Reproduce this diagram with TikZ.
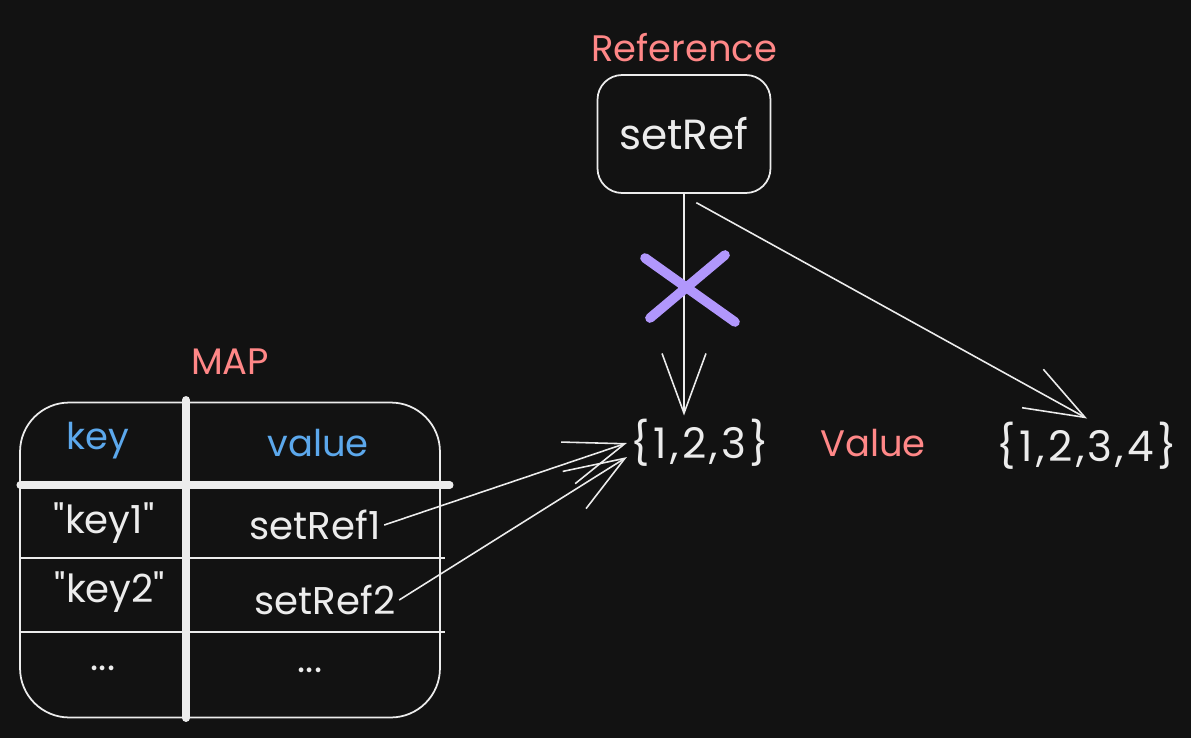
\documentclass[tikz,border=0pt]{standalone}
\usepackage{fontspec}
\setmainfont{Poppins}[Ligatures=TeXOff]
\usepackage{xcolor}
\usepackage{tikz}
\usetikzlibrary{arrows.meta,positioning}

\definecolor{bgdark}{HTML}{121212}
\definecolor{chalk}{HTML}{ECECEC}
\definecolor{salmon}{HTML}{FF8787}
\definecolor{skyblue}{HTML}{5CA8EC}
\definecolor{lilac}{HTML}{B197FC}

\begin{document}
\begin{tikzpicture}[x=0.02cm, y=-0.02cm,
  >={Straight Barb[length=34pt,width=25pt]},
  txt/.style={text=chalk, font=\fontsize{22}{26}\selectfont, inner sep=2pt},
  tag/.style={text=salmon, font=\fontsize{21}{25}\selectfont, inner sep=2pt},
  head/.style={text=skyblue, font=\fontsize{21}{25}\selectfont, inner sep=2pt},
  setval/.style={txt, font=\fontsize{24}{28}\selectfont\addfontfeatures{LetterSpace=8}},
  wire/.style={->, chalk, line width=0.9pt},
  gridline/.style={chalk, line width=0.8pt}]
  \fill[bgdark] (0,0) rectangle (1191,738);
  \useasboundingbox (0,0) rectangle (1191,738);
  % --- Reference box ---
  \node[txt, font=\fontsize{24}{28}\selectfont, draw=chalk, line width=1pt, rounded corners=14pt,
        minimum width=3.46cm, minimum height=2.36cm] (setref) at (684,134) {setRef};
  \node[tag, above=5pt of setref] (reflbl) {Reference};
  % --- Values ---
  \node[setval] (s123) at (700,443) {\{1,2,3\}};
  \node[tag] (vallbl) at (873,443) {Value};
  \node[setval] (s1234) at (1087,446) {\{1,2,3,4\}};
  % --- Map table ---
  \node[draw=chalk, line width=1pt, rounded corners=28pt,
        minimum width=8.4cm, minimum height=6.3cm] (map) at (230,560) {};
  \node[tag, above=13pt of map] (maplbl) {MAP};
  \draw[chalk, line width=4.5pt, line cap=round] (186,400) -- (186,718);
  \draw[chalk, line width=4pt, line cap=round] (20,485) -- (450,485);
  \draw[gridline] (20,558) -- (445,558);
  \draw[gridline] (20,632) -- (445,632);
  \node[head] (keyh) at (98,441) {key};
  \node[head] (valh) at (318,443) {value};
  \node[txt] (key1) at (104,523) {"key1"};
  \node[txt] (ref1) at (315,525) {setRef1};
  \node[txt] (key2) at (110,592) {"key2"};
  \node[txt] (ref2) at (325,600) {setRef2};
  \node[txt] (dotk) at (103,668) {...};
  \node[txt] (dotv) at (310,670) {...};
  % --- Connectors ---
  \draw[wire] (ref1.east) -- (s123.west);
  \draw[wire] (ref2.east) -- ([yshift=-8pt]s123.west);
  \draw[wire] (setref.south) -- (setref.south |- s123.north);
  \draw[wire] ([xshift=7pt,yshift=-5pt]setref.south) -- (s1234.north);
  % crossed-out link
  \coordinate (cut) at (690,288);
  \draw[lilac, line width=5.5pt, line cap=round]
    ([shift={(-45,-30)}]cut) -- ([shift={(45,34)}]cut)
    ([shift={(-40,30)}]cut) -- ([shift={(35,-33)}]cut);
\end{tikzpicture}
\end{document}
